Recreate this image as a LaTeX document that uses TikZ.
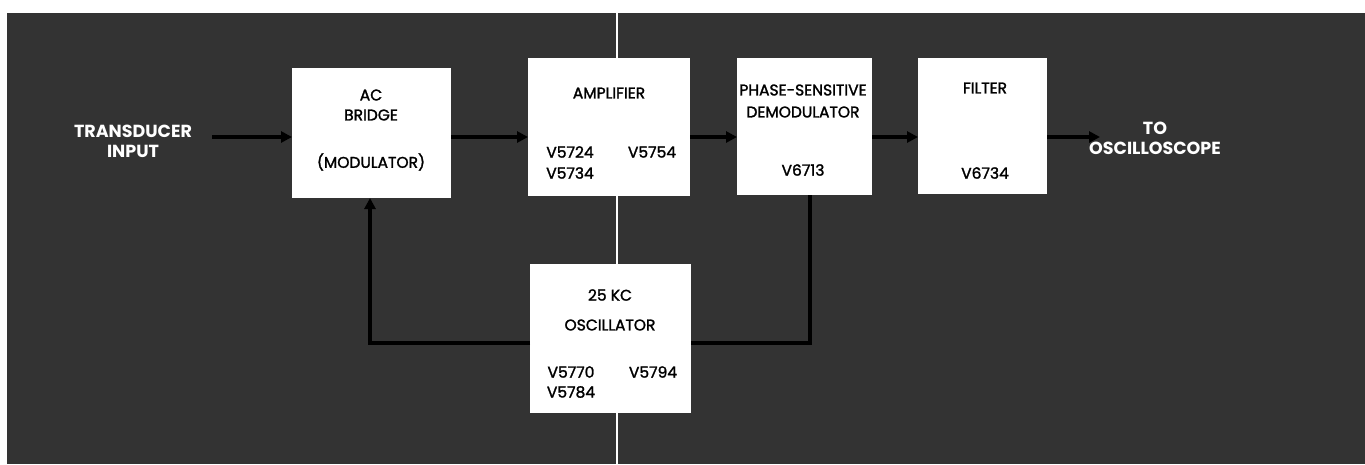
\documentclass[tikz,border=0pt]{standalone}
\usepackage{fontspec}
\setmainfont{Poppins}
\newfontfamily\boxfont{Poppins}[RawFeature={embolden=1.6}]
\usetikzlibrary{arrows.meta,calc}
\definecolor{bgdark}{HTML}{333333}
\begin{document}
\begin{tikzpicture}[x=1pt,y=-1pt,
  blk/.style={draw=none,fill=white,minimum width=#1,inner sep=0pt,outer sep=0pt},
  btxt/.style={font=\boxfont\fontsize{15.5}{17}\selectfont,text=black,inner sep=0pt,anchor=center},
  wtxt/.style={font=\fontsize{17.5}{20}\selectfont\bfseries,text=white,inner sep=0pt,anchor=center},
  wire/.style={line width=4pt,draw=black},
  arr/.style={wire,-{Triangle[length=11pt,width=11pt]}}]
\useasboundingbox (0,0) rectangle (1365,464);
\fill[white] (0,0) rectangle (1365,464);
\fill[bgdark] (7,13) rectangle (1365,464);
\draw[white,line width=2pt] (617,13) -- (617,464);
% boxes
\node[blk=159pt,minimum height=130pt] (ac) at (371.5,133) {};
\node[blk=162pt,minimum height=138pt] (amp) at (609,127) {};
\node[blk=161pt,minimum height=149pt] (osc) at (610.5,338.5) {};
\node[blk=135pt,minimum height=137pt] (psd) at (804.5,126.5) {};
\node[blk=129pt,minimum height=136pt] (flt) at (982.5,126) {};
% box texts
\node[btxt] (t1) at (371,95) {AC};
\node[btxt] (t2) at (371,115) {BRIDGE};
\node[btxt] (t3) at (371,162) {(MODULATOR)};
\node[btxt] (t4) at (609,93) {AMPLIFIER};
\node[btxt] (t5) at (570,152) {V5724};
\node[btxt] (t6) at (652,152) {V5754};
\node[btxt] (t7) at (570,173) {V5734};
\node[btxt] (t8) at (610,295) {25 KC};
\node[btxt] (t9) at (610,325) {OSCILLATOR};
\node[btxt] (t10) at (571,372) {V5770};
\node[btxt] (t11) at (653,372) {V5794};
\node[btxt] (t12) at (571,392) {V5784};
\node[btxt] (t13) at (803,90) {PHASE-SENSITIVE};
\node[btxt] (t14) at (803,112) {DEMODULATOR};
\node[btxt] (t15) at (803,170) {V6713};
\node[btxt] (t16) at (985,88) {FILTER};
\node[btxt] (t17) at (985,173) {V6734};
% outside labels
\node[wtxt,align=center] (tin) at (133,141) {TRANSDUCER\\INPUT};
\node[wtxt,align=center] (tout) at (1155,138) {TO\\OSCILLOSCOPE};
% connectors
\coordinate (sig) at (0,137);
\coordinate (instart) at (212,137);
\coordinate (outend) at (1100,137);
\coordinate (fb) at (0,343);
\coordinate (fbl) at (370,0);
\coordinate (fbr) at (810,0);
\draw[arr] (instart) -- (ac.west |- sig);
\draw[arr] (ac.east |- sig) -- (amp.west |- sig);
\draw[arr] (amp.east |- sig) -- (psd.west |- sig);
\draw[arr] (psd.east |- sig) -- (flt.west |- sig);
\draw[arr] (flt.east |- sig) -- (outend);
\draw[arr] (osc.west |- fb) -| (ac.south -| fbl);
\draw[wire] (osc.east |- fb) -| (psd.south -| fbr);
\end{tikzpicture}
\end{document}
